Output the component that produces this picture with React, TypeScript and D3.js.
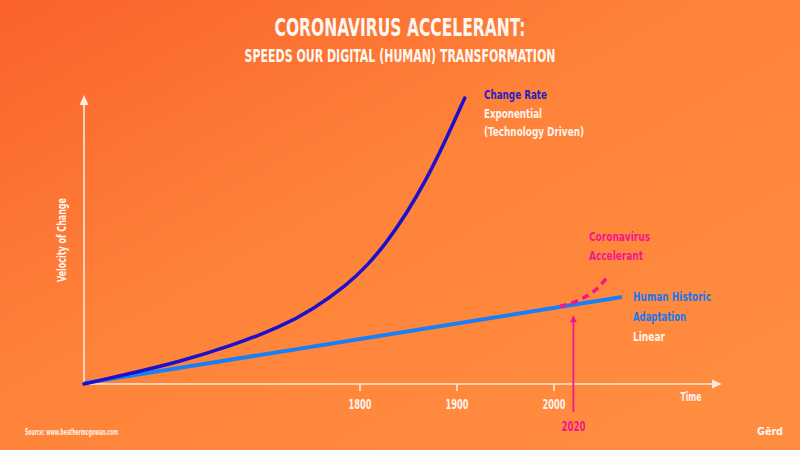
import * as d3 from "d3";
import React, { useRef, useEffect } from "react";

// exponential "change rate" curve (year, velocity)
const techYears = [1515.5, 1560, 1614, 1666, 1717.5, 1752, 1786, 1807, 1827.5, 1848, 1869, 1888, 1908];
const techValues = [0, 3.4, 7.8, 13.2, 19.8, 26.2, 34.5, 41.2, 49.5, 59.6, 71.8, 85.0, 100];

// linear human adaptation
const humanYears = [1515.5, 2070];
const humanValues = [0.3, 30.4];

// coronavirus acceleration (dashed)
const covidYears = [2006, 2020, 2035, 2046, 2055];
const covidValues = [27.2, 28.5, 31, 33.8, 37.5];

const tickYears = [1800, 1900, 2000];
const markerYear = 2020;

const titleLines = ["CORONAVIRUS ACCELERANT:", "SPEEDS OUR DIGITAL (HUMAN) TRANSFORMATION"];
const techLabels = ["Change Rate", "Exponential", "(Technology Driven)"];
const covidLabels = ["Coronavirus", "Accelerant"];
const humanLabels = ["Human Historic", "Adaptation", "Linear"];

const FONT = "'Liberation Sans Narrow','DejaVu Sans Condensed','Roboto',sans-serif";
const WHITE = "#fff3ec";

function App() {
  const ref = useRef(null);

  useEffect(() => {
    document.body.style.margin = "0";
    const svg = d3.select(ref.current);
    svg.selectAll("*").remove();

    const width = 800, height = 450;
    const x = d3.scaleLinear().domain([1800, 2000]).range([360, 554]);
    const y = d3.scaleLinear().domain([0, 100]).range([384, 98]);
    const x0 = x(1515.5), y0 = y(0);

    const defs = svg.append("defs");
    const grad = defs.append("linearGradient").attr("id", "bg")
      .attr("x1", 0).attr("y1", 0).attr("x2", 1).attr("y2", 1);
    grad.append("stop").attr("offset", "0").attr("stop-color", "#f9622a");
    grad.append("stop").attr("offset", "0.45").attr("stop-color", "#ff833a");
    grad.append("stop").attr("offset", "1").attr("stop-color", "#ff8e40");

    svg.append("rect").attr("width", width).attr("height", height).attr("fill", "url(#bg)");

    const txt = (s, tx, ty, size, color, len, anchor = "start") => {
      const t = svg.append("text")
        .attr("x", tx).attr("y", ty)
        .attr("font-family", FONT).attr("font-weight", "bold")
        .attr("font-size", size).attr("fill", color)
        .attr("text-anchor", anchor)
        .text(s);
      if (len) t.attr("textLength", len).attr("lengthAdjust", "spacingAndGlyphs");
      return t;
    };

    // titles
    txt(titleLines[0], 400, 36, 25, "#fff8f2", 251, "middle");
    txt(titleLines[1], 400, 62, 17, "#fff8f2", 311, "middle");

    // axes
    const axisColor = "#ffe9dc";
    svg.append("line").attr("x1", x0).attr("y1", y0).attr("x2", x0).attr("y2", 104)
      .attr("stroke", axisColor).attr("stroke-width", 1.6);
    svg.append("path").attr("d", `M${x0},95 L${x0 - 4.5},105 L${x0 + 4.5},105 Z`).attr("fill", axisColor);
    svg.append("line").attr("x1", x0).attr("y1", y0).attr("x2", 713).attr("y2", y0)
      .attr("stroke", axisColor).attr("stroke-width", 1.6);
    svg.append("path").attr("d", `M722,${y0} L712,${y0 - 4.5} L712,${y0 + 4.5} Z`).attr("fill", axisColor);

    tickYears.forEach((yr) => {
      svg.append("line").attr("x1", x(yr)).attr("x2", x(yr)).attr("y1", y0).attr("y2", y0 + 7)
        .attr("stroke", axisColor).attr("stroke-width", 1.6);
      txt(String(yr), x(yr), 409, 14, WHITE, 23, "middle");
    });

    txt("Time", 691, 401, 13, WHITE, 21, "middle");

    svg.append("text")
      .attr("transform", `translate(66,240) rotate(-90)`)
      .attr("text-anchor", "middle")
      .attr("font-family", FONT).attr("font-weight", "bold")
      .attr("font-size", 12).attr("fill", WHITE)
      .attr("textLength", 84).attr("lengthAdjust", "spacingAndGlyphs")
      .text("Velocity of Change");

    const line = d3.line().x((d) => x(d[0])).y((d) => y(d[1]));

    // human linear line
    svg.append("path")
      .attr("d", line(d3.zip(humanYears, humanValues)))
      .attr("fill", "none").attr("stroke", "#1a7ff5").attr("stroke-width", 4);

    // exponential
    svg.append("path")
      .attr("d", line.curve(d3.curveBasis)(d3.zip(techYears, techValues)))
      .attr("fill", "none").attr("stroke", "#1c10cc").attr("stroke-width", 3.5)
      .attr("stroke-linecap", "round");

    // covid dashed
    svg.append("path")
      .attr("d", line.curve(d3.curveMonotoneX)(d3.zip(covidYears, covidValues)))
      .attr("fill", "none").attr("stroke", "#f2178f").attr("stroke-width", 3.5)
      .attr("stroke-dasharray", "7,5");

    // 2020 marker arrow
    const pink = "#f2178f";
    const mx = x(markerYear);
    svg.append("line").attr("x1", mx).attr("x2", mx).attr("y1", y0 + 28).attr("y2", y(24) + 5)
      .attr("stroke", pink).attr("stroke-width", 1.8);
    svg.append("path").attr("d", `M${mx},${y(24)} L${mx - 3.5},${y(24) + 7} L${mx + 3.5},${y(24) + 7} Z`).attr("fill", pink);
    txt(String(markerYear), mx, 431, 14, pink, 24, "middle");

    // annotations
    txt(techLabels[0], 484, 98.5, 13, "#2a1fc0", 63);
    txt(techLabels[1], 484, 117.5, 13, WHITE, 58);
    txt(techLabels[2], 484, 135.5, 13, WHITE, 100);

    txt(covidLabels[0], 589, 241, 13, pink, 61);
    txt(covidLabels[1], 589, 260, 13, pink, 54);

    txt(humanLabels[0], 633, 301, 13, "#1a77ee", 78);
    txt(humanLabels[1], 633, 320.5, 13, "#1a77ee", 53);
    txt(humanLabels[2], 633, 340.5, 13, WHITE, 32);

    txt("Source: www.heathermcgowan.com", 25, 435, 8.5, "#fff0e6", 93);
    txt("Gērd", 757, 434.5, 11, "#fff8f2", 26);
  }, []);

  return (
    <div>
      <svg ref={ref} width={800} height={450} style={{ display: "block" }}></svg>
    </div>
  );
}

export default App;
